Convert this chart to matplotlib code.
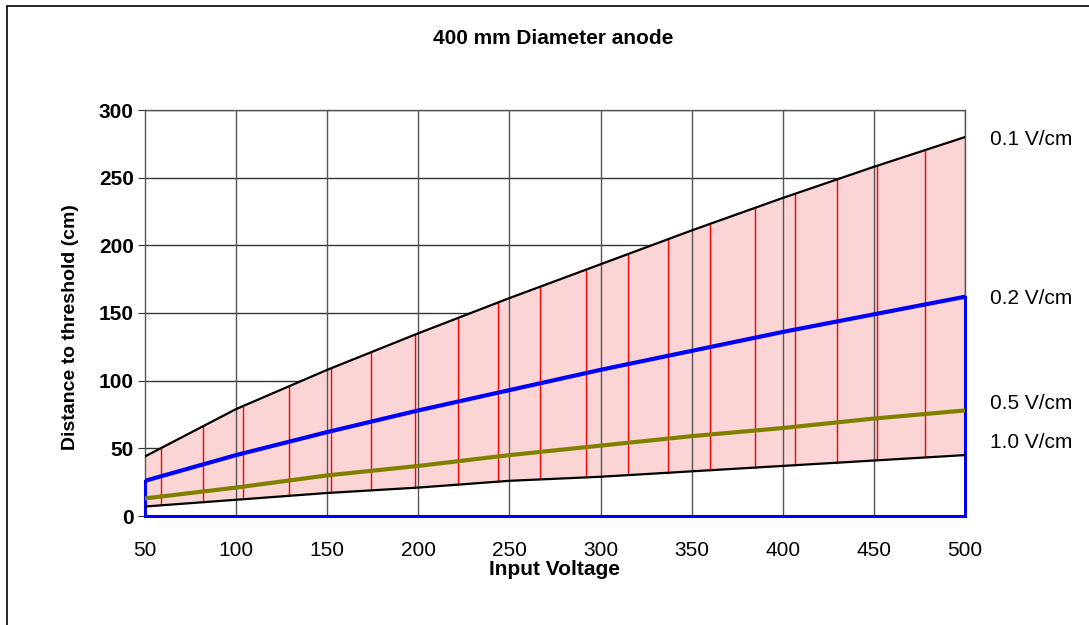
import numpy as np
import matplotlib.pyplot as plt
from matplotlib.patches import Rectangle

plt.rcParams['font.family'] = ['Liberation Sans', 'DejaVu Sans']

# Input voltage (V)
voltage = [50, 100, 150, 200, 250, 300, 350, 400, 450, 500]

# Distance to threshold (cm) for each field strength
d_01 = [44, 79, 108, 135, 161, 186, 211, 235, 258, 280]
d_02 = [26, 45, 62, 78, 93, 108, 122, 136, 149, 162]
d_05 = [13, 21, 30, 37, 45, 52, 59, 65, 72, 78]
d_10 = [7, 12, 17, 21, 26, 29, 33, 37, 41, 45]

series_labels = ['0.1 V/cm', '0.2 V/cm', '0.5 V/cm', '1.0 V/cm']
label_y = [278, 161, 83, 54]

# x positions of the red drop lines inside the band
drop_x = [59, 82, 104, 129, 152, 174, 198, 222, 244, 267, 292, 315,
          337, 360, 385, 407, 430, 452, 478]

fig = plt.figure(figsize=(10.89, 6.25), dpi=100)
ax = fig.add_axes([0.1331, 0.1744, 0.7530, 0.6496])

ax.set_xlim(50, 500)
ax.set_ylim(0, 300)

# horizontal grid sits under the band, vertical grid over it
for y in range(50, 301, 50):
    ax.axhline(y, color='#333333', lw=1, zorder=0.5)
ax.fill_between(voltage, d_10, d_01, facecolor='#fbd5d5', edgecolor='none', zorder=1)
for x in range(100, 501, 50):
    ax.axvline(x, color='#555555', lw=1, zorder=1.5)

# red drop lines between the outer curves
for x in drop_x:
    lo = np.interp(x, voltage, d_10)
    hi = np.interp(x, voltage, d_01)
    ax.plot([x, x], [lo, hi], color='red', lw=1, zorder=2)

# outline under the 0.2 V/cm curve
ax.plot([voltage[0], voltage[0], voltage[-1], voltage[-1]],
        [d_02[0], 0, 0, d_02[-1]], color='#0000ff', lw=2.2, zorder=3,
        solid_joinstyle='miter', clip_on=False)

ax.plot(voltage, d_01, color='black', lw=1.6, zorder=4)
ax.plot(voltage, d_02, color='#0000ff', lw=3, zorder=4)
ax.plot(voltage, d_05, color='#808000', lw=3, zorder=4)
ax.plot(voltage, d_10, color='black', lw=1.6, zorder=4)

for txt, y in zip(series_labels, label_y):
    ax.annotate(txt, xy=(500, y), xytext=(18, 0), textcoords='offset points',
                va='center', ha='left', fontsize=15, annotation_clip=False)

ax.set_xticks(voltage)
ax.set_yticks(range(0, 301, 50))
ax.tick_params(axis='x', length=0, labelsize=15, pad=18)
ax.tick_params(axis='y', length=5, direction='out', labelsize=15, pad=3, color='#333333')
for lab in ax.get_yticklabels():
    lab.set_fontweight('bold')

for s in ax.spines.values():
    s.set_color('#555555')
    s.set_linewidth(1)

ax.set_xlabel('Input Voltage', fontsize=15, fontweight='bold', labelpad=0)
ax.set_ylabel('Distance to threshold (cm)', fontsize=14, fontweight='bold')
ax.yaxis.set_label_coords(-0.080, 0.465)
fig.text(0.508, 0.939, '400 mm Diameter anode', ha='center', va='center',
         fontsize=15, fontweight='bold')

# chart frame
fig.patches.append(Rectangle((7 / 1089, -0.1), 1.2, 1.1 - 6 / 625,
                             transform=fig.transFigure, fill=False,
                             edgecolor='black', lw=1.2))

fig.savefig('out.png', dpi=100)
